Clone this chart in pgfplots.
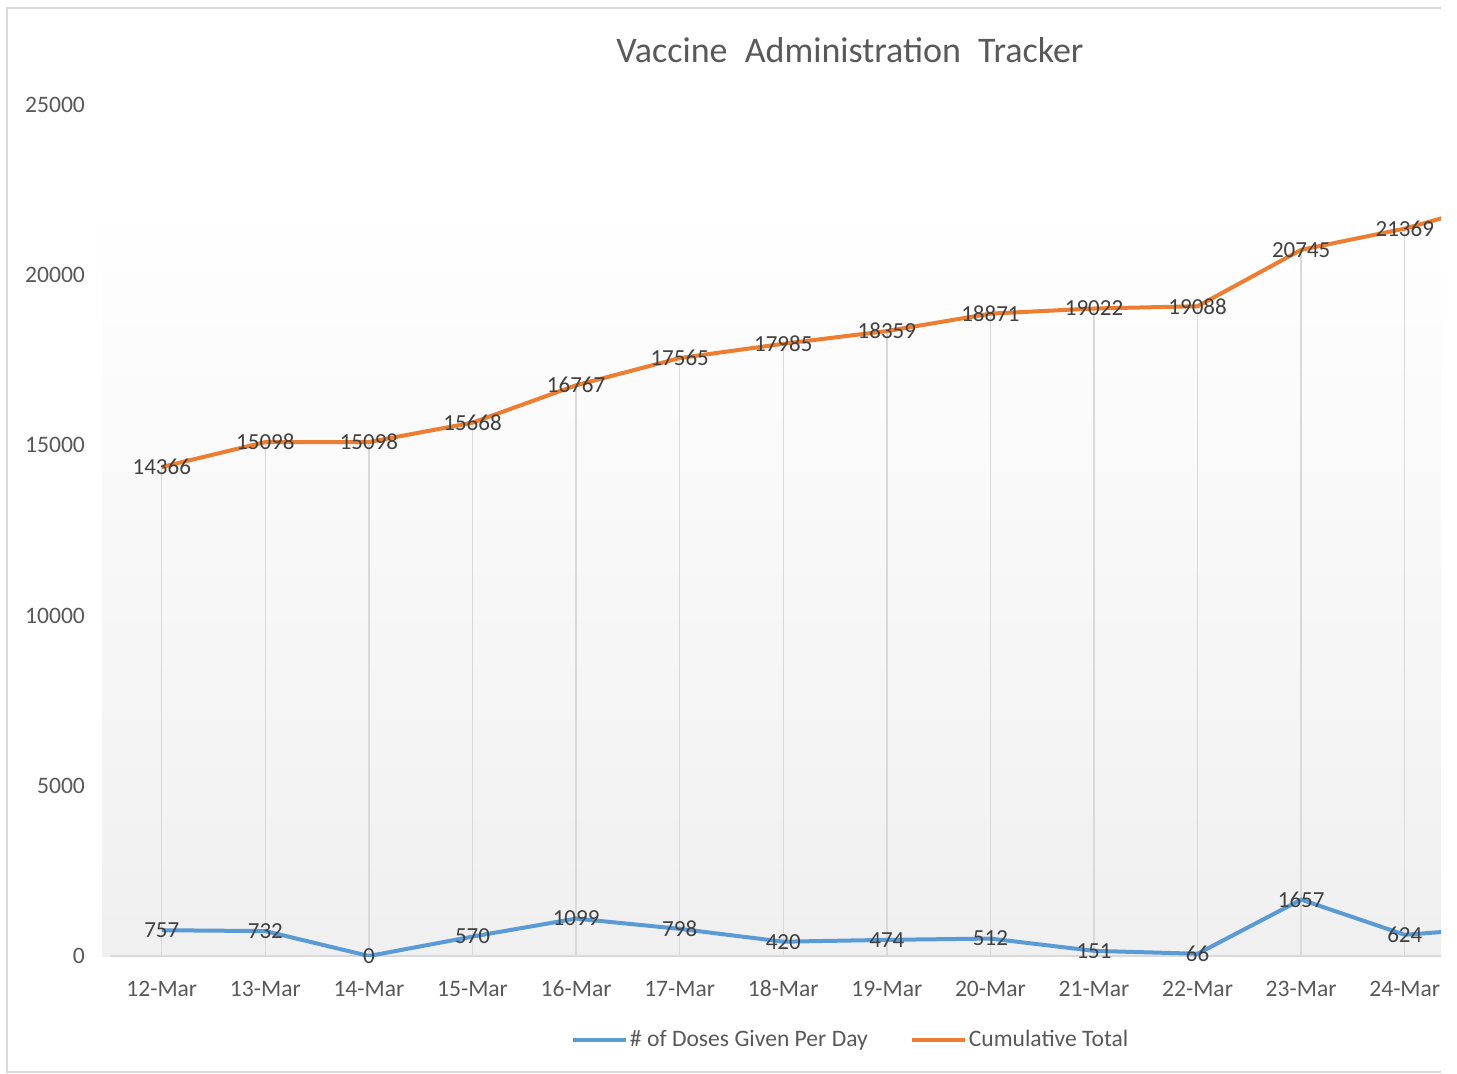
\documentclass[border=0pt]{standalone}
\usepackage{fontspec}
\setmainfont{Carlito}
\usepackage{pgfplots}
\pgfplotsset{compat=1.18}
\definecolor{cblue}{HTML}{5B9BD5}
\definecolor{corange}{HTML}{ED7D31}
\definecolor{txtgray}{HTML}{595959}
\definecolor{lblgray}{HTML}{404040}
\definecolor{frame}{HTML}{D9D9D9}
\begin{document}
\begin{tikzpicture}
\useasboundingbox (0pt,0pt) rectangle (728.5pt,-537pt);
% chart frame
\draw[frame, line width=0.6pt] (720.5pt,-4pt) -- (3.5pt,-4pt) -- (3.5pt,-536pt) -- (720.5pt,-536pt);
% plot area gradient
\fill[top color=white, bottom color=black!6] (51pt,-99pt) rectangle (720.5pt,-478pt);
\node[font=\fontsize{18}{22}\selectfont, text=txtgray] at (425pt,-25pt) {Vaccine\hspace{0.25em} Administration\hspace{0.25em} Tracker};
\begin{axis}[
  at={(55pt,-478pt)}, anchor=south west,
  scale only axis, width=665.5pt, height=425.5pt,
  xmin=-0.5, xmax=12.35, ymin=0, ymax=25000,
  axis x line=bottom, axis y line=left,
  x axis line style={draw=frame, line width=0.6pt, -},
  y axis line style={draw=none, -},
  major tick length=0pt,
  xtick={0,...,12},
  xticklabels={12-Mar,13-Mar,14-Mar,15-Mar,16-Mar,17-Mar,18-Mar,19-Mar,20-Mar,21-Mar,22-Mar,23-Mar,24-Mar},
  ytick={0,5000,10000,15000,20000,25000},
  yticklabels={0,5000,10000,15000,20000,25000},
  scaled y ticks=false,
  ticklabel style={font=\fontsize{11.8}{14}\selectfont, text=txtgray},
  xticklabel style={yshift=-8pt, text height=8.5pt, text depth=1pt},
  yticklabel style={anchor=east, xshift=-9pt},
  legend style={draw=none, fill=none, at={(axis description cs:0.5565,-0.0987)}, anchor=center,
    font=\fontsize{11.8}{14}\selectfont, text=txtgray,
    /tikz/every even column/.append style={column sep=20pt},
    nodes={inner xsep=1pt}},
  legend columns=2,
  legend image code/.code={\draw[#1] (0pt,0pt) -- (26.5pt,0pt);},
  clip=true,
]
% drop lines
\addplot[ycomb, draw=frame, line width=0.7pt, forget plot] coordinates {
(0,14366) (1,15098) (2,15098) (3,15668) (4,16767) (5,17565) (6,17985) (7,18359) (8,18871) (9,19022) (10,19088) (11,20745) (12,21369)};
\addplot[cblue, line width=2pt, line join=round] coordinates {
(0,757) (1,732) (2,0) (3,570) (4,1099) (5,798) (6,420) (7,474) (8,512) (9,151) (10,66) (11,1657) (12,624) (13,850)};
\addlegendentry{\# of Doses Given Per Day}
\addplot[corange, line width=2pt, line join=round] coordinates {
(0,14366) (1,15098) (2,15098) (3,15668) (4,16767) (5,17565) (6,17985) (7,18359) (8,18871) (9,19022) (10,19088) (11,20745) (12,21369) (13,22219)};
\addlegendentry{Cumulative Total}
% data labels
\addplot[draw=none, forget plot, point meta=explicit symbolic,
  nodes near coords, every node near coord/.append style={anchor=center, font=\fontsize{11.5}{14}\selectfont, text=lblgray, inner sep=0pt}]
  coordinates {
(0,757) [757] (1,732) [732] (2,0) [0] (3,570) [570] (4,1099) [1099] (5,798) [798] (6,420) [420] (7,474) [474] (8,512) [512] (9,151) [151] (10,66) [66] (11,1657) [1657] (12,624) [624]};
\addplot[draw=none, forget plot, point meta=explicit symbolic,
  nodes near coords, every node near coord/.append style={anchor=center, font=\fontsize{11.5}{14}\selectfont, text=lblgray, inner sep=0pt}]
  coordinates {
(0,14366) [14366] (1,15098) [15098] (2,15098) [15098] (3,15668) [15668] (4,16767) [16767] (5,17565) [17565] (6,17985) [17985] (7,18359) [18359] (8,18871) [18871] (9,19022) [19022] (10,19088) [19088] (11,20745) [20745] (12,21369) [21369]};
\end{axis}
\end{tikzpicture}
\end{document}
